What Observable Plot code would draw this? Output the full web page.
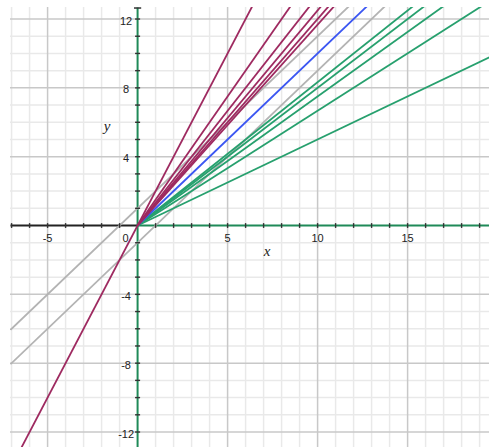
<!DOCTYPE html>
<html>
<head>
<meta charset="utf-8">
<script src="https://cdn.jsdelivr.net/npm/d3@7"></script>
<script src="https://cdn.jsdelivr.net/npm/@observablehq/plot@0.6"></script>
<style>
  body { margin: 0; background: #fff; }
  #chart svg { display: block; }
</style>
</head>
<body>
<div id="chart"></div>
<script>
// Visible window of the coordinate plane
const xDomain = [-7.06, 19.55];
const yDomain = [-12.9, 12.67];

// Lines through the origin, y = m·x
const purpleSlopes = [2, 1.5, 1.333, 1.25, 1.2, 1.167];
const greenSlopes = [0.833, 0.8, 0.75, 0.667, 0.5];
const blueSlopes = [1];
// Parallel lines y = x + b
const graySlope = 1;
const grayIntercepts = [1, -1];

// Axis labels
const xTickValues = [-5, 5, 10, 15];
const xTickLabels = ["-5", "5", "10", "15"];
const yTickValues = [-12, -8, -4, 4, 8, 12];
const yTickLabels = ["-12", "-8", "-4", "4", "8", "12"];

const purple = "#9e2a60";
const green = "#27a06e";
const blue = "#3b56f2";
const gray = "#b3b3b3";
const axisGreen = "#1f8a58";

const [x0, x1] = xDomain;
const [y0, y1] = yDomain;

// Integer grid, with heavier lines every 5 (x) and every 4 (y)
const xInts = d3.range(Math.ceil(x0), Math.floor(x1) + 1);
const yInts = d3.range(Math.ceil(y0), Math.floor(y1) + 1);
const xMinor = xInts.filter(v => v % 5 !== 0);
const xMajor = xInts.filter(v => v % 5 === 0 && v !== 0);
const yMinor = yInts.filter(v => v % 4 !== 0);
const yMajor = yInts.filter(v => v % 4 === 0 && v !== 0);

// Line segments: the steepest line runs across the whole window,
// the rest of the fan starts at the origin
const segments = [];
grayIntercepts.forEach(b => segments.push({x1: x0, y1: graySlope * x0 + b, x2: x1, y2: graySlope * x1 + b, color: gray}));
greenSlopes.forEach(m => segments.push({x1: 0, y1: 0, x2: x1, y2: m * x1, color: green}));
blueSlopes.forEach(m => segments.push({x1: 0, y1: 0, x2: x1, y2: m * x1, color: blue}));
purpleSlopes.forEach((m, i) => {
  const xs = i === 0 ? x0 : 0;
  segments.push({x1: xs, y1: m * xs, x2: x1, y2: m * x1, color: purple});
});

const serif = "'Liberation Serif', 'Times New Roman', serif";

const chart = Plot.plot({
  width: 489,
  height: 447,
  marginLeft: 10,
  marginRight: 0,
  marginTop: 7,
  marginBottom: 0,
  x: {domain: xDomain, axis: null},
  y: {domain: yDomain, axis: null},
  style: {background: "#fff", fontFamily: "'Liberation Sans', Arial, sans-serif"},
  marks: [
    // grid
    Plot.ruleX(xMinor, {x: d => d, stroke: "#e9e9e9", strokeWidth: 1.5}),
    Plot.ruleY(yMinor, {y: d => d, stroke: "#e9e9e9", strokeWidth: 1.5}),
    Plot.ruleX(xMajor, {x: d => d, stroke: "#c8c8c8", strokeWidth: 1.5}),
    Plot.ruleY(yMajor, {y: d => d, stroke: "#c8c8c8", strokeWidth: 1.5}),
    // axes
    Plot.link([{a: x0, b: 0}], {x1: "a", x2: "b", y1: () => 0, y2: () => 0, stroke: "#222", strokeWidth: 2}),
    Plot.link([{a: 0, b: x1}], {x1: "a", x2: "b", y1: () => 0, y2: () => 0, stroke: axisGreen, strokeWidth: 2}),
    Plot.link([{a: y0, b: y1}], {y1: "a", y2: "b", x1: () => 0, x2: () => 0, stroke: axisGreen, strokeWidth: 2}),
    // lines
    Plot.link(segments, {
      x1: "x1", y1: "y1", x2: "x2", y2: "y2",
      stroke: "color", strokeWidth: 1.8, clip: true
    }),
    // tick marks on the axes
    Plot.link(xInts.filter(v => v !== 0), {x1: d => d, x2: d => d, y1: () => -0.14, y2: () => 0.14, stroke: "#333", strokeWidth: 1.4}),
    Plot.link(yInts.filter(v => v !== 0), {y1: d => d, y2: d => d, x1: () => -0.14, x2: () => 0.14, stroke: "#333", strokeWidth: 1.4}),
    // cap at the top of the vertical axis
    Plot.link([y1 - 0.03], {y1: d => d, y2: d => d, x1: () => -0.2, x2: () => 0.2, stroke: "#333", strokeWidth: 1.5}),
    // tick labels
    Plot.text(xTickValues, {
      x: d => d, y: () => 0, text: (d, i) => xTickLabels[i],
      dy: 13, fontSize: 11, fill: "#222"
    }),
    Plot.text(["0"], {x: () => 0, y: () => 0, text: d => d, dx: -12, dy: 13, fontSize: 11, fill: "#222"}),
    Plot.text(yTickValues, {
      x: () => 0, y: d => d, text: (d, i) => yTickLabels[i],
      dx: -11.5, dy: 2, fontSize: 11, fill: "#222"
    }),
    // axis titles
    Plot.text(["x"], {x: () => 7.2, y: () => -1.5, text: d => d, fontFamily: serif, fontStyle: "italic", fontSize: 15, fill: "#222"}),
    Plot.text(["y"], {x: () => -1.7, y: () => 5.8, text: d => d, fontFamily: serif, fontStyle: "italic", fontSize: 15, fill: "#222"})
  ]
});

document.getElementById("chart").appendChild(chart);
</script>
</body>
</html>
